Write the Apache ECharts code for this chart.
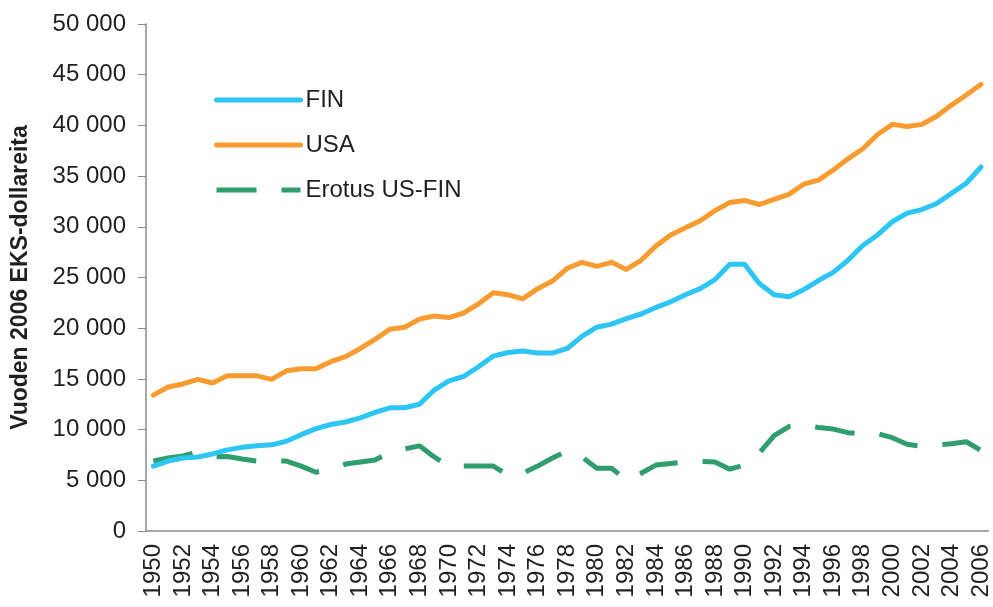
<!DOCTYPE html>
<html>
<head>
<meta charset="UTF-8">
<title></title>
<script src="https://cdn.jsdelivr.net/npm/echarts@6/dist/echarts.min.js"></script>
<style>
  html, body { margin: 0; padding: 0; background: #fff; }
  #chartArea { width: 993px; height: 607px; }
</style>
</head>
<body>
<div id="chartArea"></div>
<script>
var years = ['1950','1951','1952','1953','1954','1955','1956','1957','1958','1959',
  '1960','1961','1962','1963','1964','1965','1966','1967','1968','1969',
  '1970','1971','1972','1973','1974','1975','1976','1977','1978','1979',
  '1980','1981','1982','1983','1984','1985','1986','1987','1988','1989',
  '1990','1991','1992','1993','1994','1995','1996','1997','1998','1999',
  '2000','2001','2002','2003','2004','2005','2006'];

var fin = [6400, 6900, 7200, 7300, 7600, 8000, 8250, 8400, 8500, 8850,
  9500, 10100, 10500, 10750, 11150, 11700, 12150, 12150, 12500, 13900,
  14800, 15250, 16200, 17250, 17600, 17750, 17550, 17550, 18000, 19200,
  20100, 20400, 20950, 21400, 22050, 22600, 23300, 23900, 24800, 26300,
  26300, 24400, 23300, 23100, 23800, 24700, 25500, 26700, 28150, 29200,
  30500, 31350, 31700, 32300, 33300, 34300, 35900];

var usa = [13400, 14200, 14500, 14950, 14600, 15300, 15300, 15300, 14950, 15800,
  16000, 16000, 16700, 17200, 18000, 18900, 19900, 20100, 20900, 21200,
  21050, 21500, 22400, 23500, 23300, 22900, 23900, 24650, 25900, 26500,
  26100, 26500, 25800, 26700, 28100, 29200, 29900, 30600, 31600, 32400,
  32600, 32200, 32700, 33200, 34200, 34600, 35600, 36700, 37700, 39100,
  40100, 39900, 40100, 40900, 42000, 43000, 44050];

var erotus = [6900, 7200, 7400, 7800, 7300, 7350, 7100, 6900, 6900, 6900,
  6400, 5800, 6100, 6600, 6800, 7000, 7750, 8100, 8400, 7300,
  6400, 6400, 6400, 6400, 5500, 5700, 6400, 7200, 7900, 7300,
  6200, 6200, 5000, 5700, 6500, 6650, 6800, 6850, 6800, 6100,
  6500, 7700, 9400, 10300, 10500, 10200, 10050, 9700, 9550, 9600,
  9200, 8550, 8350, 8500, 8600, 8800, 7950];

var seriesNames = ['FIN', 'USA', 'Erotus US-FIN'];
var colors = ['#2dc5f4', '#f89b30', '#2f9d6d'];

var myChart = echarts.init(document.getElementById('chartArea'));

function fmt(v) {
  return String(v).replace(/\B(?=(\d{3})+(?!\d))/g, ' ');
}

var textColor = '#231f20';
var axisColor = '#8a8a8a';

var option = {
  animation: false,
  color: colors,
  textStyle: { fontFamily: 'Liberation Sans, Arial, sans-serif' },
  grid: { left: 146, right: 3, top: 24, bottom: 76 },
  legend: {
    data: seriesNames,
    orient: 'vertical',
    left: 209,
    top: 83,
    itemWidth: 84,
    itemHeight: 24,
    itemGap: 21,
    itemStyle: { opacity: 0 },
    lineStyle: { width: 'inherit', type: 'inherit', cap: 'inherit' },
    textStyle: { fontSize: 24, color: textColor }
  },
  xAxis: {
    type: 'category',
    data: years,
    boundaryGap: true,
    axisLine: { lineStyle: { color: axisColor, width: 1.5 } },
    axisTick: { interval: 0, length: 6, lineStyle: { color: axisColor } },
    axisLabel: {
      interval: 1,
      rotate: 90,
      margin: 13,
      fontSize: 24,
      color: textColor
    }
  },
  yAxis: {
    type: 'value',
    min: 0,
    max: 50000,
    interval: 5000,
    name: 'Vuoden 2006 EKS-dollareita',
    nameLocation: 'middle',
    nameGap: 114,
    nameTextStyle: { fontSize: 23, fontWeight: 'bold', color: textColor },
    splitLine: { show: false },
    axisLine: { show: true, lineStyle: { color: axisColor, width: 1.5 } },
    axisTick: { show: true, length: 8, lineStyle: { color: axisColor } },
    axisLabel: {
      margin: 20,
      fontSize: 24,
      color: textColor,
      formatter: fmt
    }
  },
  series: [{
    name: seriesNames[0],
    type: 'line',
    data: fin,
    symbol: 'none',
    lineStyle: { width: 5, color: colors[0], cap: 'round', join: 'round' },
    z: 3
  }, {
    name: seriesNames[1],
    type: 'line',
    data: usa,
    symbol: 'none',
    lineStyle: { width: 5, color: colors[1], cap: 'round', join: 'round' },
    z: 2
  }, {
    name: seriesNames[2],
    type: 'line',
    data: erotus,
    symbol: 'none',
    lineStyle: { width: 5, color: colors[2], type: [40, 25], cap: 'butt' },
    z: 1
  }]
};

myChart.setOption(option);
</script>
</body>
</html>
